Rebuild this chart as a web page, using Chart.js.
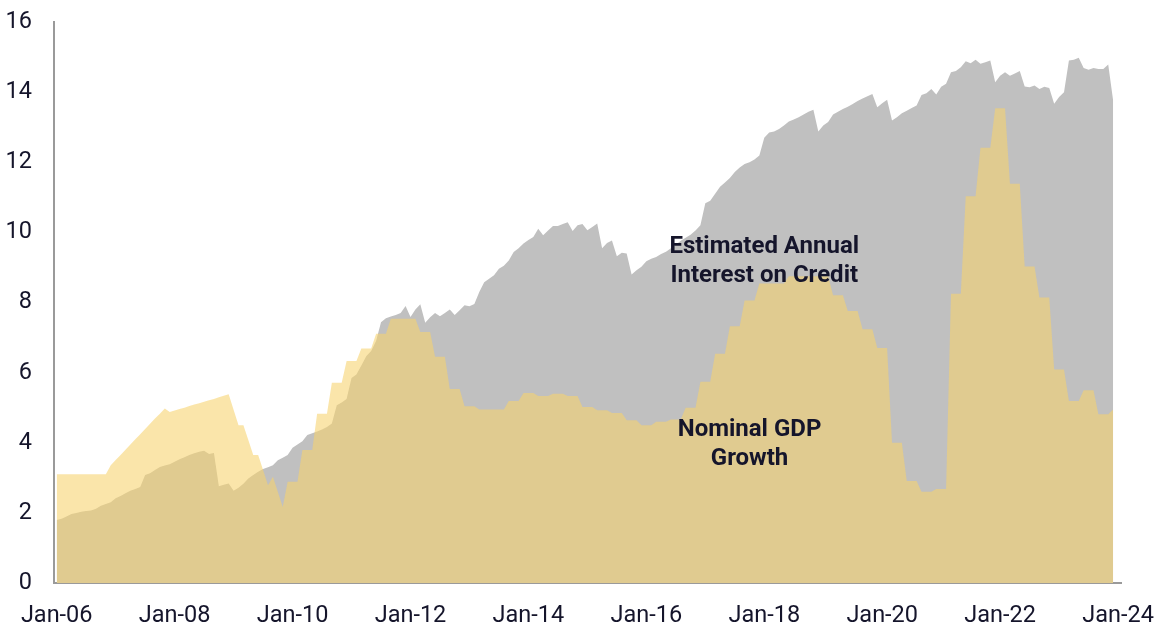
<!DOCTYPE html>
<html><head><meta charset="utf-8">
<script src="https://cdn.jsdelivr.net/npm/chart.js@4.4.1/dist/chart.umd.min.js"></script>
<style>html,body{margin:0;padding:0;background:#fff;}#wrap{width:1157px;height:623px;position:relative;}</style>
</head><body><div id="wrap"><canvas id="c"></canvas></div>
<script>
// Month index 0 = Jan-06 ... 215 = Dec-23
const tickMonths = [0, 24, 48, 72, 96, 120, 144, 168, 192, 216];
const tickLabels = ['Jan-06','Jan-08','Jan-10','Jan-12','Jan-14','Jan-16','Jan-18','Jan-20','Jan-22','Jan-24'];

const interestOnCredit = [
 1.80,1.83,1.90,1.97,2.00,2.03,2.05,2.07,2.12,2.20,
 2.25,2.30,2.42,2.48,2.56,2.63,2.68,2.74,3.08,3.13,
 3.22,3.31,3.35,3.39,3.46,3.53,3.59,3.65,3.70,3.74,
 3.77,3.68,3.71,2.76,2.80,2.84,2.63,2.72,2.83,2.98,
 3.08,3.17,3.25,3.30,3.36,3.50,3.57,3.65,3.86,3.95,
 4.04,4.22,4.27,4.32,4.38,4.45,4.55,5.07,5.15,5.25,
 5.85,5.95,6.20,6.47,6.62,6.90,7.44,7.55,7.60,7.64,
 7.70,7.90,7.59,7.80,7.95,7.42,7.58,7.70,7.61,7.70,
 7.80,7.64,7.78,7.92,7.89,7.96,8.30,8.58,8.68,8.78,
 8.96,9.05,9.20,9.44,9.55,9.68,9.78,9.87,10.10,9.92,
 10.05,10.18,10.18,10.24,10.29,10.04,10.20,10.24,10.06,10.15,
 10.25,9.55,9.70,9.77,9.32,9.42,9.40,8.80,8.92,9.02,
 9.18,9.25,9.30,9.38,9.45,9.55,9.65,9.76,9.85,9.93,
 10.05,10.20,10.83,10.90,11.10,11.30,11.42,11.55,11.72,11.85,
 11.95,12.00,12.08,12.19,12.70,12.85,12.88,12.95,13.05,13.16,
 13.22,13.28,13.36,13.44,13.50,12.88,13.05,13.15,13.36,13.44,
 13.52,13.58,13.66,13.75,13.82,13.88,13.95,13.57,13.68,13.78,
 13.19,13.28,13.40,13.47,13.55,13.62,13.92,13.97,14.09,13.93,
 14.15,14.24,14.57,14.60,14.71,14.88,14.82,14.92,14.81,14.85,
 14.90,14.28,14.47,14.57,14.47,14.53,14.60,14.16,14.14,14.19,
 14.09,14.15,14.12,13.67,13.86,14.00,14.90,14.92,14.98,14.69,
 14.64,14.69,14.66,14.66,14.79,13.76
];

const nominalGdpGrowth = [
 3.10,3.10,3.10,3.10,3.10,3.10,3.10,3.10,3.10,3.10,
 3.10,3.36,3.51,3.65,3.80,3.95,4.10,4.24,4.39,4.54,
 4.69,4.83,4.98,4.88,4.92,4.96,5.00,5.05,5.09,5.13,
 5.17,5.21,5.25,5.30,5.34,5.38,4.94,4.50,4.50,4.08,
 3.65,3.65,3.22,2.79,3.03,2.60,2.17,2.89,2.89,2.89,
 3.79,3.79,3.79,4.83,4.83,4.83,5.71,5.71,5.71,6.33,
 6.33,6.33,6.69,6.69,6.69,7.11,7.11,7.11,7.54,7.54,
 7.54,7.54,7.54,7.54,7.16,7.16,7.16,6.45,6.45,6.45,
 5.53,5.53,5.53,5.04,5.04,5.04,4.95,4.95,4.95,4.95,
 4.95,4.95,5.19,5.19,5.19,5.42,5.42,5.42,5.33,5.33,
 5.33,5.40,5.40,5.40,5.33,5.33,5.33,5.02,5.02,5.02,
 4.93,4.93,4.93,4.85,4.85,4.85,4.64,4.64,4.64,4.50,
 4.50,4.50,4.60,4.60,4.60,4.66,4.66,4.66,5.00,5.00,
 5.00,5.74,5.74,5.74,6.54,6.54,6.54,7.32,7.32,7.32,
 8.06,8.06,8.06,8.54,8.54,8.54,8.54,8.54,8.54,8.75,
 8.75,8.75,8.75,8.75,8.75,8.75,8.75,8.75,8.21,8.21,
 8.21,7.76,7.76,7.76,7.24,7.24,7.24,6.70,6.70,6.70,
 4.00,4.00,4.00,2.91,2.91,2.91,2.60,2.60,2.60,2.68,
 2.68,2.68,8.25,8.25,8.25,11.03,11.03,11.03,12.41,12.41,
 12.41,13.54,13.54,13.54,11.39,11.39,11.39,9.03,9.03,9.03,
 8.14,8.14,8.14,6.09,6.09,6.09,5.19,5.19,5.19,5.50,
 5.50,5.50,4.81,4.81,4.81,4.95
];

const interestLabel = ['Estimated Annual', 'Interest on Credit'];
const gdpLabel = ['Nominal GDP', 'Growth'];

const TXT = '#15152b';
const tickFont = { family: 'Roboto', size: 23.5 };

const annotate = {
  id: 'annotate',
  afterDatasetsDraw(chart) {
    const { ctx, scales: { x, y } } = chart;
    ctx.save();
    ctx.font = 'bold 24px Roboto';
    ctx.fillStyle = TXT;
    ctx.textAlign = 'center';
    ctx.textBaseline = 'alphabetic';
    const lh = 29;
    const x1 = x.getPixelForValue(144), y1 = y.getPixelForValue(9.42);
    interestLabel.forEach((t, i) => ctx.fillText(t, x1, y1 + i * lh));
    const x2 = x.getPixelForValue(141), y2 = y.getPixelForValue(4.19);
    gdpLabel.forEach((t, i) => ctx.fillText(t, x2, y2 + i * lh));
    ctx.restore();
  }
};

new Chart(document.getElementById('c'), {
  type: 'line',
  data: {
    datasets: [
      {
        label: 'Nominal GDP Growth',
        data: nominalGdpGrowth.map((v, i) => ({ x: i, y: v })),
        fill: 'origin',
        backgroundColor: 'rgba(246,210,108,0.58)',
        borderWidth: 0,
        pointRadius: 0,
        tension: 0,
        order: 1
      },
      {
        label: 'Estimated Annual Interest on Credit',
        data: interestOnCredit.map((v, i) => ({ x: i, y: v })),
        fill: 'origin',
        backgroundColor: '#c0c0c0',
        borderWidth: 0,
        pointRadius: 0,
        tension: 0,
        order: 2
      }
    ]
  },
  options: {
    responsive: true,
    maintainAspectRatio: false,
    animation: false,
    devicePixelRatio: 1,
    layout: { padding: { top: 22, right: 36, left: 0, bottom: 0 } },
    plugins: { legend: { display: false }, tooltip: { enabled: false } },
    scales: {
      x: {
        type: 'linear',
        min: -0.55,
        max: 216.6,
        afterBuildTicks: s => { s.ticks = tickMonths.map(v => ({ value: v })); },
        afterFit: s => { s.height = 40; s.paddingLeft = 0; s.paddingRight = 0; },
        ticks: {
          callback: (v, i) => tickLabels[i],
          font: tickFont, color: TXT, padding: 19, maxRotation: 0, autoSkip: false
        },
        grid: { display: false, drawTicks: false },
        border: { display: true, color: '#9a9a9a', width: 2 }
      },
      y: {
        min: 0, max: 16,
        afterFit: s => { s.width = 54; s.paddingTop = 0; s.paddingBottom = 0; },
        ticks: { stepSize: 2, font: tickFont, color: TXT, padding: 22 },
        grid: { display: false, drawTicks: false },
        border: { display: true, color: '#9a9a9a', width: 2 }
      }
    }
  },
  plugins: [annotate]
});
</script>
</body></html>
